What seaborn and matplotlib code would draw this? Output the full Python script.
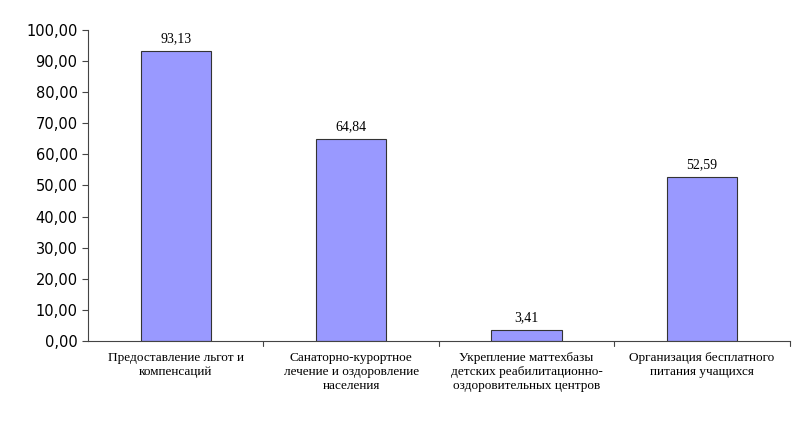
import matplotlib
matplotlib.use("Agg")
import matplotlib.pyplot as plt
import seaborn as sns
import pandas as pd
import numpy as np

categories = ["Предоставление льгот и\nкомпенсаций",
              "Санаторно-курортное\nлечение и оздоровление\nнаселения",
              "Укрепление маттехбазы\nдетских реабилитационно-\nоздоровительных центров",
              "Организация бесплатного\nпитания учащихся"]
values = [93.13, 64.84, 3.41, 52.59]
value_labels = ["93,13", "64,84", "3,41", "52,59"]
yticks = np.arange(0, 101, 10)

sns.set_theme(style="white")
plt.rcParams['font.family'] = ['Liberation Serif', 'DejaVu Serif']
fig = plt.figure(figsize=(8, 4.23), dpi=100)
ax = fig.add_axes([0.11, 0.194, 0.877, 0.735])
df = pd.DataFrame({"cat": categories, "val": values})
sns.barplot(data=df, x="cat", y="val", ax=ax, color="#9999FF", width=0.4,
            edgecolor="#333333", linewidth=0.8, saturation=1)
ax.set_xlim(-0.5, 3.5)
ax.set_ylim(0, 100)
ax.set_yticks(yticks)
ax.set_yticklabels([f"{v:.2f}".replace(".", ",") for v in yticks], fontsize=10.5,
                   family="DejaVu Sans", color="black")
ax.set_xticks(range(4))
ax.set_xticklabels(categories, fontsize=9.5, color="black")
ax.set_xlabel(""); ax.set_ylabel("")
ax.tick_params(axis="x", length=0, pad=8)
ax.tick_params(axis="y", length=4, direction="out", left=True, width=0.8, color="#444444")
for b in [0.5, 1.5, 2.5, 3.5]:
    ax.plot([b, b], [0, -1.5], color="#444444", lw=0.8, clip_on=False)
for s in ["top", "right"]:
    ax.spines[s].set_visible(False)
for s in ["left", "bottom"]:
    ax.spines[s].set_color("#444444"); ax.spines[s].set_linewidth(0.8)
for i, (v, l) in enumerate(zip(values, value_labels)):
    ax.text(i, v + 2, l, ha="center", va="bottom", fontsize=10, color="black")
fig.savefig("out.png", dpi=100)
